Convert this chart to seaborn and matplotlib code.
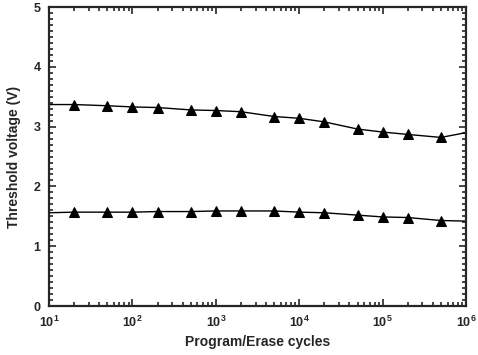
import numpy as np
import pandas as pd
import matplotlib
matplotlib.use("Agg")
import matplotlib.pyplot as plt
import seaborn as sns
from matplotlib.ticker import MultipleLocator, LogLocator, NullFormatter

# P/E cycles (first and last points carry no marker)
cycles = [10, 20, 50, 100, 200, 500, 1e3, 2e3, 5e3, 1e4, 2e4, 5e4, 1e5, 2e5, 5e5, 1e6]

# threshold voltage, programmed state
vt_program = [3.37, 3.37, 3.35, 3.33, 3.32, 3.28, 3.27, 3.25, 3.17, 3.14, 3.08, 2.96, 2.91, 2.87, 2.82, 2.90]
# threshold voltage, erased state
vt_erase = [1.56, 1.57, 1.57, 1.57, 1.58, 1.58, 1.59, 1.59, 1.59, 1.57, 1.56, 1.52, 1.49, 1.48, 1.43, 1.42]

df = pd.DataFrame({
    "cycles": cycles * 2,
    "vt": vt_program + vt_erase,
    "state": ["program"] * len(cycles) + ["erase"] * len(cycles),
})

sns.set_style("ticks")
plt.rcParams["font.family"] = ["Liberation Sans", "DejaVu Sans"]

fig = plt.figure(figsize=(4.78, 3.55), dpi=100)
ax = fig.add_axes([0.1025, 0.138, 0.8725, 0.842])

for state in ["program", "erase"]:
    sub = df[df["state"] == state]
    sns.lineplot(data=sub, x="cycles", y="vt", ax=ax, color="black", lw=1.0,
                 marker="^", markersize=7, markevery=slice(1, len(sub) - 1),
                 markeredgecolor="black", markerfacecolor="black")

ax.set_xscale("log")
ax.set_xlim(10, 1e6)
ax.set_ylim(0, 5)
ax.yaxis.set_major_locator(MultipleLocator(1))
ax.yaxis.set_minor_locator(MultipleLocator(0.1))
ax.xaxis.set_minor_locator(LogLocator(base=10, subs=np.arange(2, 10)))
ax.xaxis.set_minor_formatter(NullFormatter())

ax.tick_params(which="both", direction="in", top=True, right=True, width=1.2)
ax.tick_params(which="major", length=5, labelsize=9, pad=6)
ax.tick_params(which="minor", length=3)
for lab in ax.get_xticklabels() + ax.get_yticklabels():
    lab.set_fontweight("bold")
for sp in ax.spines.values():
    sp.set_linewidth(1.6)

ax.set_xlabel("Program/Erase cycles", fontsize=10, fontweight="bold", labelpad=4)
ax.set_ylabel("Threshold voltage (V)", fontsize=10, fontweight="bold", labelpad=9)

fig.savefig("out.png", dpi=100)
